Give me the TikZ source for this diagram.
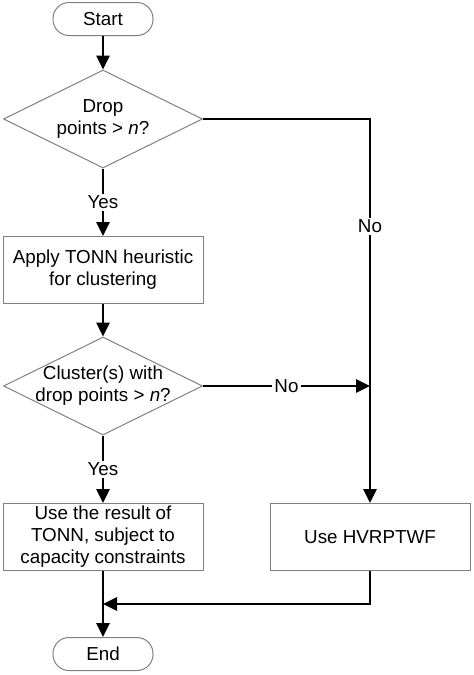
\documentclass[tikz,border=0pt]{standalone}
\usepackage{fontspec}
\setmainfont{Liberation Sans}
\usetikzlibrary{shapes.geometric,arrows.meta}
\begin{document}
\begin{tikzpicture}[x=1pt,y=-1pt,
  shapeline/.style={draw=black!50,line width=1pt},
  term/.style={shapeline,rounded corners=16pt,minimum width=100pt,minimum height=33pt,inner sep=0pt,font=\fontsize{18.8}{22}\selectfont},
  proc/.style={shapeline,minimum width=200pt,minimum height=67pt,inner sep=0pt,align=center,font=\fontsize{18.8}{22}\selectfont},
  dia/.style={shapeline,diamond,aspect=2,minimum width=199pt,minimum height=98pt,inner sep=0pt},
  txt/.style={align=center,inner sep=0pt,font=\fontsize{18.8}{22}\selectfont},
  arr/.style={line width=2.8pt,-{Triangle[length=14pt,width=13pt]}},
  lab/.style={fill=white,inner sep=2pt,font=\fontsize{18.8}{22}\selectfont}
]
\useasboundingbox (0,0) rectangle (474,675);
\node[term] (start) at (103,19) {Start};
\node[dia] (d1) at (103,119) {};
\node[txt] (d1t) at (103,119) {Drop\\points > \textit{n}?};
\node[proc] (b1) at (103,270) {Apply TONN heuristic\\for clustering};
\node[dia] (d2) at (103,386) {};
\node[txt] (d2t) at (103,386) {Cluster(s) with\\drop points > \textit{n}?};
\node[proc] (b2) at (103,537) {Use the result of\\TONN, subject to\\capacity constraints};
\node[proc] (b3) at (370,537) {Use HVRPTWF};
\node[term] (end) at (103,654) {End};
\coordinate (j) at (103,604);

\draw[arr] (start) -- (d1.north);
\draw[arr] (d1.east) -| node[lab,pos=0.64] {No} (b3.north);
\draw[arr] (d1.south) -- node[lab] {Yes} (b1.north);
\draw[arr] (b1) -- (d2.north);
\draw[arr] (d2.east) -- node[lab] {No} (d2.east -| b3.north);
\draw[arr] (d2.south) -- node[lab] {Yes} (b2.north);
\draw[arr] (b2) -- (end);
\draw[arr] (b3.south) |- (j);
\end{tikzpicture}
\end{document}
